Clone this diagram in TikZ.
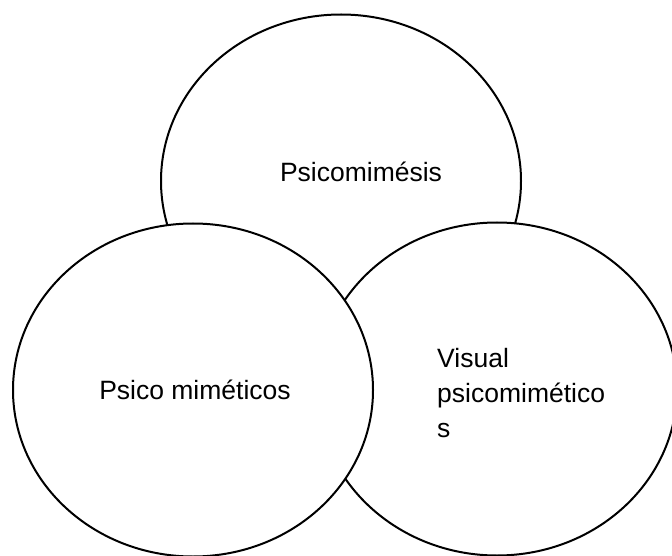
\documentclass[tikz,border=0pt]{standalone}
\usepackage{fontspec}
\setmainfont{Liberation Sans}
\usetikzlibrary{shapes.geometric}
\begin{document}
\begin{tikzpicture}[x=1pt,y=-1pt,
  blob/.style={ellipse,draw=black,fill=white,line width=2pt,minimum width=360pt,minimum height=333pt,inner sep=0pt},
  lbl/.style={inner sep=0pt,font=\fontsize{26.5}{35}\selectfont}]
\useasboundingbox (0,0) rectangle (672,556);
\node[blob] (top) at (341,181) {};
\node[blob] (right) at (497,389) {};
\node[blob] (left) at (193,390) {};
\node[lbl,anchor=base] (tt) at (361,182) {Psicomimésis};
\node[lbl,anchor=base] (lt) at (195,399) {Psico miméticos};
\node[lbl,anchor=base west,align=left] (rt) at (437,437) {Visual\\psicomimético\\s};
\end{tikzpicture}
\end{document}
